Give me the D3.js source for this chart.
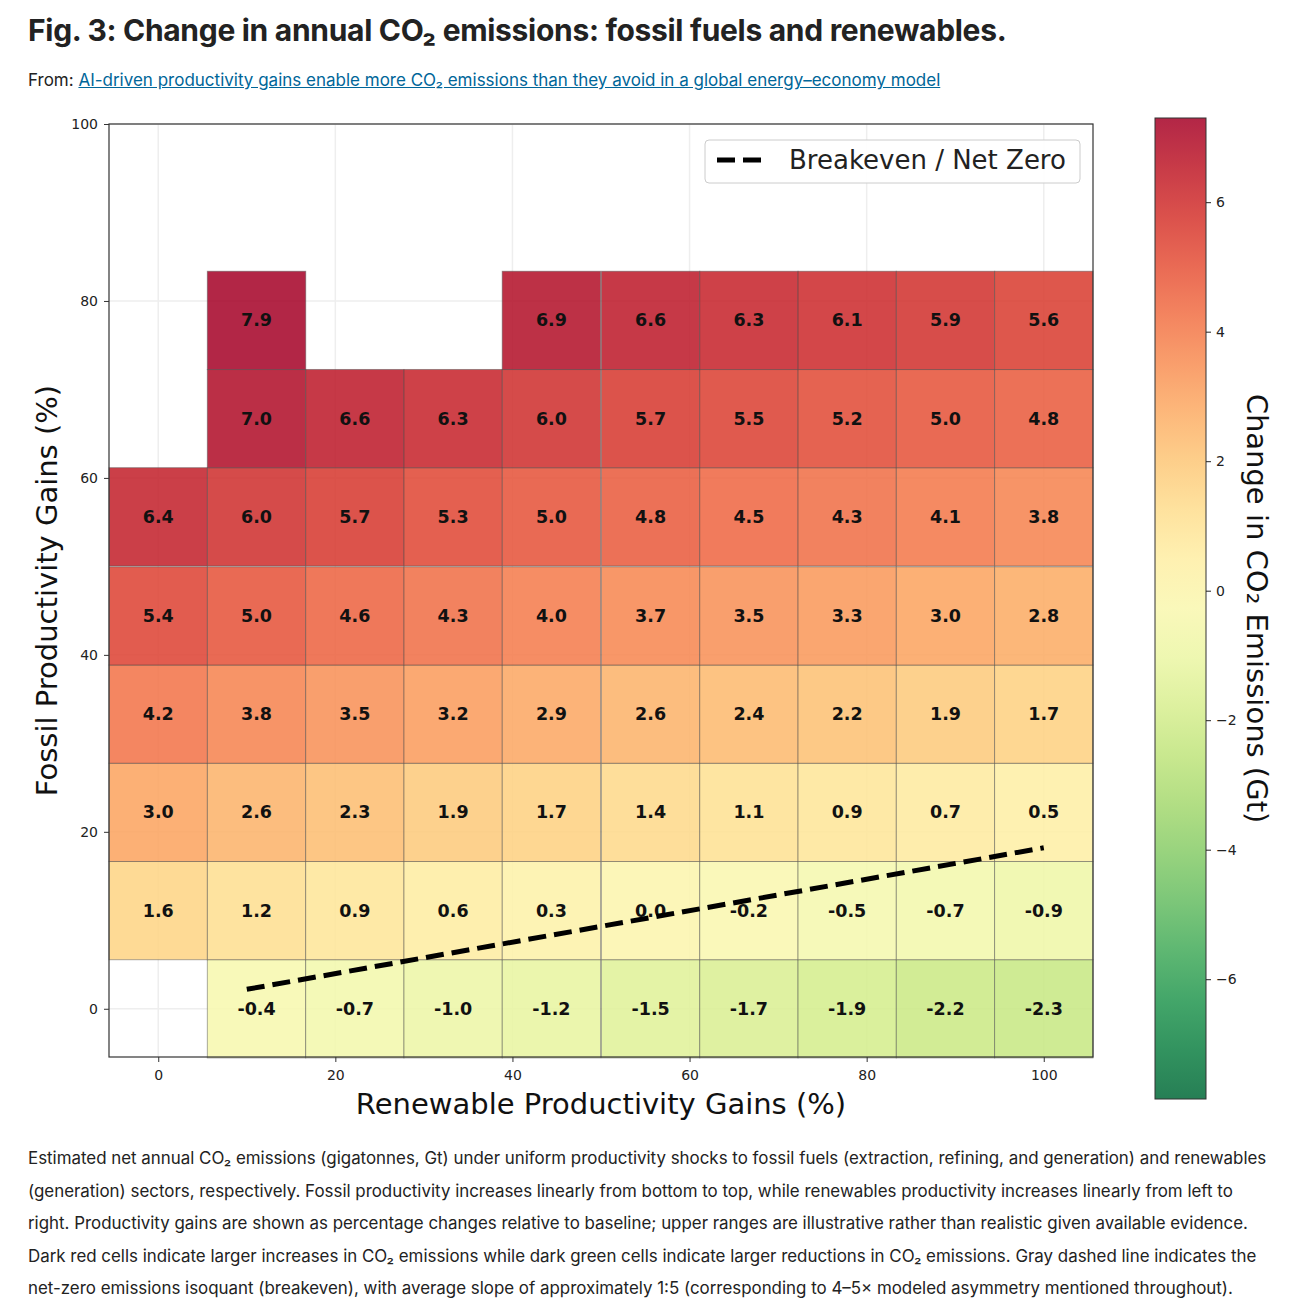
<!DOCTYPE html>
<html><head><meta charset="utf-8">
<script src="https://cdn.jsdelivr.net/npm/d3@7"></script>
<style>
body{margin:0;background:#fff;font-family:Inter,"Noto Sans",sans-serif;color:#222}
#title{position:absolute;left:28px;top:12px;font-size:30px;font-weight:700;letter-spacing:-0.3px}
#from{position:absolute;left:28px;top:70px;font-size:17px}
#from a{color:#069;text-decoration:underline}
#cap{position:absolute;left:28px;top:1142px;width:1245px;font-size:16.9px;line-height:32.5px}
svg{position:absolute;left:0;top:0}
</style></head><body>
<div id="title">Fig. 3: Change in annual CO₂ emissions: fossil fuels and renewables.</div>
<div id="from">From: <a>AI-driven productivity gains enable more CO₂ emissions than they avoid in a global energy–economy model</a></div>
<div id="cap">Estimated net annual CO₂ emissions (gigatonnes, Gt) under uniform productivity shocks to fossil fuels (extraction, refining, and generation) and renewables (generation) sectors, respectively. Fossil productivity increases linearly from bottom to top, while renewables productivity increases linearly from left to right. Productivity gains are shown as percentage changes relative to baseline; upper ranges are illustrative rather than realistic given available evidence. Dark red cells indicate larger increases in CO₂ emissions while dark green cells indicate larger reductions in CO₂ emissions. Gray dashed line indicates the net-zero emissions isoquant (breakeven), with average slope of approximately 1:5 (corresponding to 4–5× modeled asymmetry mentioned throughout).</div>
<svg id="chart" width="1296" height="1140"></svg>
<script>
// renewable gains (columns) and fossil gains (rows), percent
const renewables = [0, 11.1, 22.2, 33.3, 44.4, 55.6, 66.7, 77.8, 88.9, 100];
const fossil = [0, 11.1, 22.2, 33.3, 44.4, 55.6, 66.7, 77.8];
// emissions change (Gt), rows bottom to top; null = no result
const emissions = [
  [null, -0.4, -0.7, -1.0, -1.2, -1.5, -1.7, -1.9, -2.2, -2.3],
  [1.6, 1.2, 0.9, 0.6, 0.3, 0.0, -0.2, -0.5, -0.7, -0.9],
  [3.0, 2.6, 2.3, 1.9, 1.7, 1.4, 1.1, 0.9, 0.7, 0.5],
  [4.2, 3.8, 3.5, 3.2, 2.9, 2.6, 2.4, 2.2, 1.9, 1.7],
  [5.4, 5.0, 4.6, 4.3, 4.0, 3.7, 3.5, 3.3, 3.0, 2.8],
  [6.4, 6.0, 5.7, 5.3, 5.0, 4.8, 4.5, 4.3, 4.1, 3.8],
  [null, 7.0, 6.6, 6.3, 6.0, 5.7, 5.5, 5.2, 5.0, 4.8],
  [null, 7.9, null, null, 6.9, 6.6, 6.3, 6.1, 5.9, 5.6]
];
const breakeven = [[10, 2.2], [100, 18.2]];
const xTicks = [0, 20, 40, 60, 80, 100];
const yTicks = [0, 20, 40, 60, 80, 100];
const cbTicks = [-6, -4, -2, 0, 2, 4, 6];

const svg = d3.select("#chart");
const pLeft = 109, pRight = 1093, pTop = 124, pBottom = 1057;
const x = d3.scaleLinear().domain([-5.56, 105.56]).range([pLeft, pRight]);
const y = d3.scaleLinear().domain([-5.45, 100]).range([pBottom, pTop]);
const cmin = -7.85, cmax = 7.3;
const color = v => d3.interpolateRdYlGn(1 - (v - cmin) / (cmax - cmin));
const cw = x(11.11) - x(0), ch = y(0) - y(11.11);

const g = svg.append("g");
// faint grid
g.selectAll(".gx").data(xTicks).join("line")
  .attr("x1", d => x(d)).attr("x2", d => x(d)).attr("y1", pTop).attr("y2", pBottom)
  .attr("stroke", "#eee").attr("stroke-width", 1.5);
g.selectAll(".gy").data(yTicks).join("line")
  .attr("y1", d => y(d)).attr("y2", d => y(d)).attr("x1", pLeft).attr("x2", pRight)
  .attr("stroke", "#eee").attr("stroke-width", 1.5);

const cells = [];
emissions.forEach((row, i) => row.forEach((v, j) => {
  if (v !== null) cells.push({ r: renewables[j], f: fossil[i], v });
}));
g.selectAll("rect.cell").data(cells).join("rect")
  .attr("x", d => x(d.r) - cw / 2).attr("y", d => y(d.f) - ch / 2)
  .attr("width", cw).attr("height", ch)
  .attr("fill", d => color(d.v)).attr("fill-opacity", 0.85)
  .attr("stroke", "#555").attr("stroke-opacity", 0.5).attr("stroke-width", 1);
g.selectAll("text.cell").data(cells).join("text")
  .attr("x", d => x(d.r)).attr("y", d => y(d.f) + 6)
  .attr("text-anchor", "middle").attr("font-family", "DejaVu Sans")
  .attr("font-weight", "bold").attr("font-size", 17.5).attr("fill", "#111")
  .text(d => d.v.toFixed(1));

g.append("path").datum(breakeven)
  .attr("d", d3.line().x(d => x(d[0])).y(d => y(d[1])))
  .attr("stroke", "#000").attr("stroke-width", 5).attr("stroke-dasharray", "18,8").attr("fill", "none");

g.append("rect").attr("x", pLeft).attr("y", pTop).attr("width", pRight - pLeft).attr("height", pBottom - pTop)
  .attr("fill", "none").attr("stroke", "#333").attr("stroke-width", 1.2);

const ax = svg.append("g").attr("transform", `translate(0,${pBottom})`)
  .call(d3.axisBottom(x).tickValues(xTicks).tickSize(5).tickPadding(8));
const ay = svg.append("g").attr("transform", `translate(${pLeft},0)`)
  .call(d3.axisLeft(y).tickValues(yTicks).tickSize(5).tickPadding(6));
[ax, ay].forEach(a => {
  a.select(".domain").remove();
  a.selectAll("text").attr("font-family", "DejaVu Sans").attr("font-size", 14).attr("fill", "#222");
  a.selectAll("line").attr("stroke", "#333");
});
svg.append("text").attr("x", (pLeft + pRight) / 2).attr("y", 1114).attr("text-anchor", "middle")
  .attr("font-family", "DejaVu Sans").attr("font-size", 29).attr("fill", "#111")
  .text("Renewable Productivity Gains (%)");
svg.append("text").attr("transform", `translate(57,${(pTop + pBottom) / 2}) rotate(-90)`).attr("text-anchor", "middle")
  .attr("font-family", "DejaVu Sans").attr("font-size", 29).attr("fill", "#111")
  .text("Fossil Productivity Gains (%)");

// legend
const lg = svg.append("g").attr("transform", "translate(705,140)");
lg.append("rect").attr("width", 375).attr("height", 43).attr("rx", 4)
  .attr("fill", "#fff").attr("fill-opacity", 0.9).attr("stroke", "#ccc");
lg.append("line").attr("x1", 12).attr("x2", 62).attr("y1", 20).attr("y2", 20)
  .attr("stroke", "#000").attr("stroke-width", 5).attr("stroke-dasharray", "18,8");
lg.append("text").attr("x", 84).attr("y", 29).attr("font-family", "DejaVu Sans").attr("font-size", 26).attr("fill", "#222")
  .text("Breakeven / Net Zero");

// colorbar
const cbx = 1155, cbw = 51, cbTop = 118, cbBot = 1099;
const cy = d3.scaleLinear().domain([cmin, cmax]).range([cbBot, cbTop]);
const grad = svg.append("defs").append("linearGradient").attr("id", "cb")
  .attr("x1", 0).attr("x2", 0).attr("y1", 1).attr("y2", 0);
d3.range(0, 1.0001, 0.05).forEach(t => grad.append("stop").attr("offset", t)
  .attr("stop-color", color(cmin + t * (cmax - cmin))).attr("stop-opacity", 0.85));
svg.append("rect").attr("x", cbx).attr("y", cbTop).attr("width", cbw).attr("height", cbBot - cbTop)
  .attr("fill", "url(#cb)").attr("stroke", "#333");
const ac = svg.append("g").attr("transform", `translate(${cbx + cbw},0)`)
  .call(d3.axisRight(cy).tickValues(cbTicks).tickFormat(d => d < 0 ? "\u2212" + (-d) : d).tickSize(5).tickPadding(5));
ac.select(".domain").remove();
ac.selectAll("text").attr("font-family", "DejaVu Sans").attr("font-size", 14).attr("fill", "#222");
svg.append("text").attr("transform", `translate(1247,${(cbTop + cbBot) / 2}) rotate(90)`).attr("text-anchor", "middle")
  .attr("font-family", "DejaVu Sans").attr("font-size", 29).attr("fill", "#111")
  .text("Change in CO₂ Emissions (Gt)");
</script>
</body></html>
